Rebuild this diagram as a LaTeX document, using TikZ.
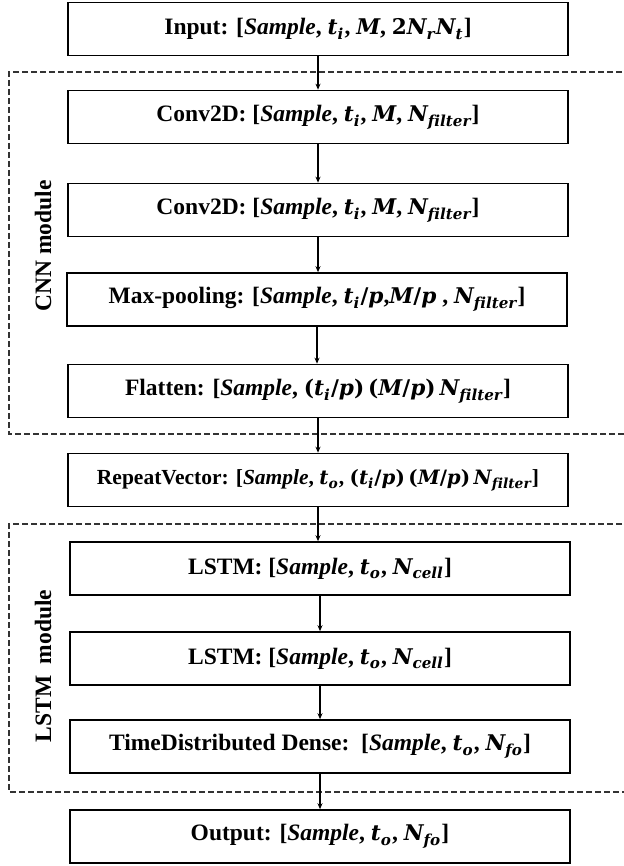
\documentclass[tikz,border=0pt]{standalone}
\usepackage{fontspec}
\usepackage{graphicx}
\setmainfont{Liberation Serif}
\newfontfamily\mfont{DejaVu Serif}[Scale=0.92, Ligatures=NoCommon]
\usetikzlibrary{arrows.meta}
\tikzset{
  layerbox/.style={draw=black, line width=1.6pt, minimum width=500pt, minimum height=53pt,
    inner sep=0pt, font=\fontsize{23.5}{27}\selectfont\bfseries},
  smallbox/.style={layerbox, font=\fontsize{21.5}{25}\selectfont\bfseries},
  flowarrow/.style={line width=1.2pt, -{Stealth[length=6pt,width=5pt]}},
  modframe/.style={draw=black!80, line width=1.3pt, dash pattern=on 6pt off 3pt},
  modlabel/.style={rotate=90, font=\fontsize{23.5}{27}\selectfont\bfseries}
}
\newcommand{\smp}{\textit{Sample}}
\newcommand{\mi}[1]{{\mfont\bfseries\itshape #1}}
\newcommand{\mup}[1]{{\mfont\bfseries #1}}
\newcommand{\sbs}[1]{\raisebox{-0.2em}{\scalebox{0.7}{\mfont\bfseries\itshape #1}}\kern0.05em}
\begin{document}
\begin{tikzpicture}[x=1pt,y=-1pt]
\useasboundingbox (0,0) rectangle (623,866);
% module frames
\draw[modframe] (640,72) -- (9,72) -- (9,434) -- (640,434);
\draw[modframe] (640,524) -- (9,524) -- (9,792) -- (640,792);
\node[modlabel] (cnnlab) at (43,246) {CNN module};
\node[modlabel] (lstmlab) at (43,666) {LSTM\ \ module};
% layers
\node[layerbox] (in) at (318,29) {Input: [\smp, \mi{t}\sbs{i}, \mi{M}, \mup{2}\mi{N}\sbs{r}\mi{N}\sbs{t}]};
\node[layerbox] (c1) at (318,117) {Conv2D: [\smp, \mi{t}\sbs{i}, \mi{M}, \mi{N}\sbs{filter}]};
\node[layerbox] (c2) at (318,210) {Conv2D: [\smp, \mi{t}\sbs{i}, \mi{M}, \mi{N}\sbs{filter}]};
\node[layerbox] (mp) at (317,299.5) {Max-pooling: [\smp, \mi{t}\sbs{i}\mup{/}\mi{p},\mi{M}\mup{/}\mi{p} , \mi{N}\sbs{filter}]};
\node[layerbox] (fl) at (318,391) {Flatten: [\smp, \mup{(}\mi{t}\sbs{i}\mup{/}\mi{p}\mup{)}\,\mup{(}\mi{M}\mup{/}\mi{p}\mup{)}\,\mi{N}\sbs{filter}]};
\node[smallbox] (rv) at (318,480) {RepeatVector: [\smp, \mi{t}\sbs{o} , \mup{(}\mi{t}\sbs{i}\mup{/}\mi{p}\mup{)}\,\mup{(}\mi{M}\mup{/}\mi{p}\mup{)}\,\mi{N}\sbs{filter}]};
\node[layerbox] (l1) at (320,568.5) {LSTM: [\smp, \mi{t}\sbs{o} , \mi{N}\sbs{cell}]};
\node[layerbox] (l2) at (320,658.5) {LSTM: [\smp, \mi{t}\sbs{o} , \mi{N}\sbs{cell}]};
\node[layerbox] (td) at (320,746.5) {TimeDistributed Dense:\ \ [\smp, \mi{t}\sbs{o} , \mi{N}\sbs{fo}]};
\node[layerbox] (out) at (320,836.5) {Output: [\smp, \mi{t}\sbs{o} , \mi{N}\sbs{fo}]};
% connectors
\foreach \a/\b in {in/c1,c1/c2,c2/mp,mp/fl,fl/rv,rv/l1,l1/l2,l2/td,td/out}
  \draw[flowarrow] (\a.south) -- (\a.south |- \b.north);
\end{tikzpicture}
\end{document}
